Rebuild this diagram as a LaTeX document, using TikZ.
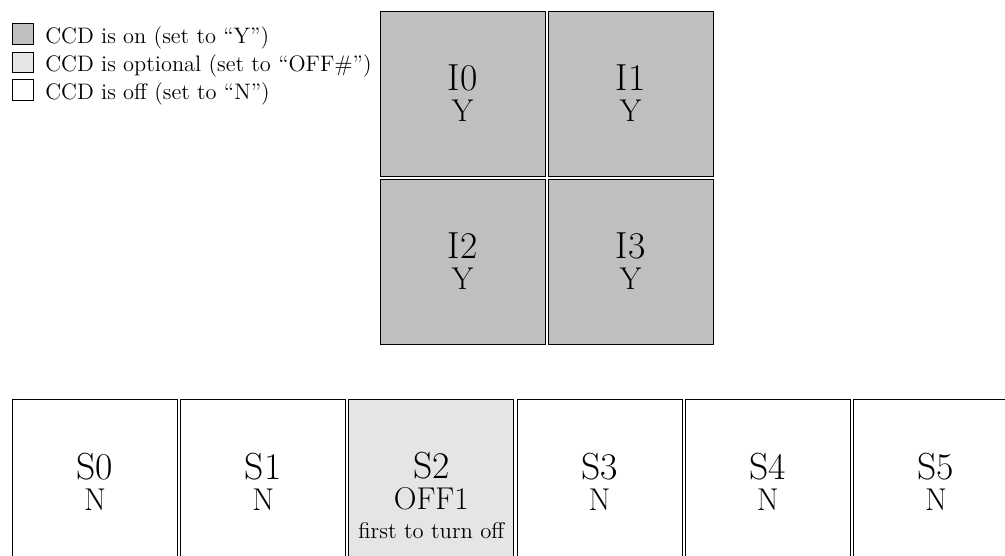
\documentclass[tikz,border=0pt]{standalone}
\begin{document}
\begin{tikzpicture}[
  ccd/.style={draw=black, line width=0.45pt, minimum width=3cm, minimum height=3cm,
    inner sep=0pt, align=center, font=\fontsize{16.3}{16}\selectfont},
  onccd/.style={ccd, fill=black!25},
  optccd/.style={ccd, fill=black!10},
  offccd/.style={ccd, fill=white},
  legbox/.style={draw=black, line width=0.45pt, minimum size=0.38cm, inner sep=0pt},
  legtext/.style={anchor=base west, inner sep=0pt, font=\fontsize{11.6}{13.6}\selectfont},
  note/.style={inner sep=0pt, font=\fontsize{11.7}{13.6}\selectfont}
]
\newcommand{\ccdname}[1]{{\fontsize{19.5}{22}\selectfont #1}}
\useasboundingbox (0,0) rectangle (18.273,-10.109);
% legend
\node[legbox, fill=black!25] (l1) at (0.41,-0.61) {};
\node[legbox, fill=black!10] (l2) at (0.41,-1.136) {};
\node[legbox, fill=white] (l3) at (0.41,-1.64) {};
\node[legtext] (t1) at (0.818,-0.782) {CCD is on (set to ``Y'')};
\node[legtext] (t2) at (0.818,-1.309) {CCD is optional (set to ``OFF\#'')};
\node[legtext] (t3) at (0.818,-1.818) {CCD is off (set to ``N'')};
% imaging CCDs
\node[onccd] (I0) at (8.409,-1.70) {\ccdname{I0}\\Y};
\node[onccd] (I1) at (11.464,-1.70) {\ccdname{I1}\\Y};
\node[onccd] (I2) at (8.409,-4.755) {\ccdname{I2}\\Y};
\node[onccd] (I3) at (11.464,-4.755) {\ccdname{I3}\\Y};
% spectroscopic CCDs
\node[offccd] (S0) at (1.727,-8.755) {\ccdname{S0}\\N};
\node[offccd] (S1) at (4.785,-8.755) {\ccdname{S1}\\N};
\node[optccd] (S2) at (7.843,-8.755) {\ccdname{S2}\\OFF1};
\node[offccd] (S3) at (10.901,-8.755) {\ccdname{S3}\\N};
\node[offccd] (S4) at (13.959,-8.755) {\ccdname{S4}\\N};
\node[offccd] (S5) at (17.017,-8.755) {\ccdname{S5}\\N};
\node[note] (S2note) at ([yshift=-0.9cm]S2.center) {first to turn off};
\end{tikzpicture}
\end{document}
